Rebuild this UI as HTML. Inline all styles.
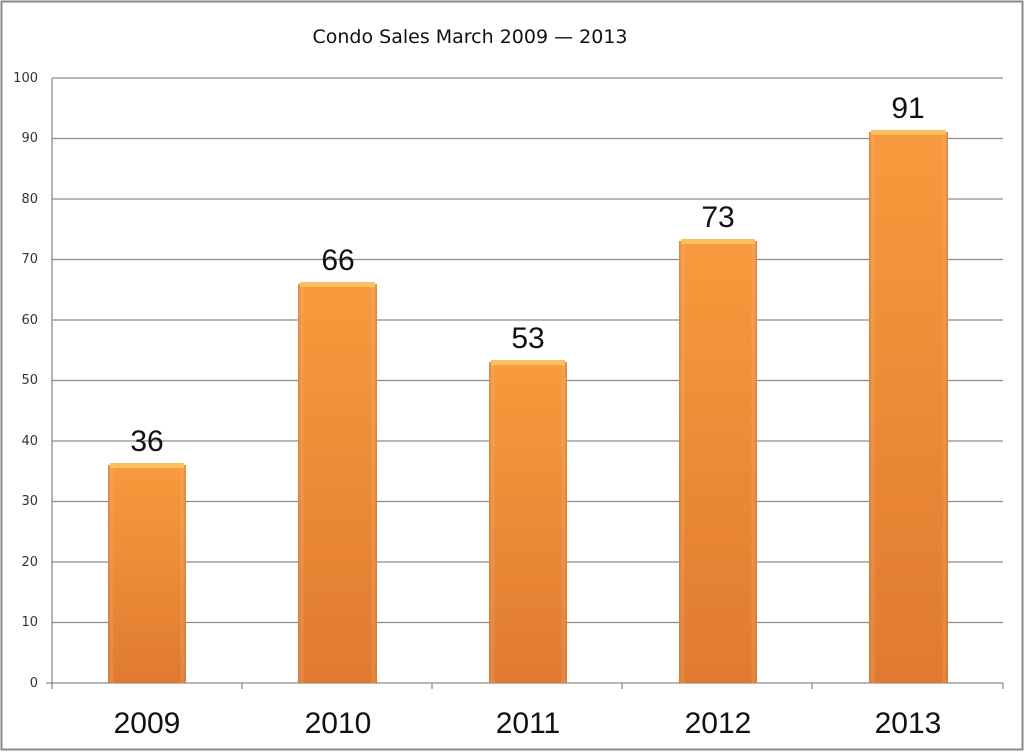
<!DOCTYPE html><html><head><style>body{margin:0;background:#fff}svg{display:block}</style></head><body>
<svg width="1024" height="752" xmlns="http://www.w3.org/2000/svg" font-family="Liberation Sans, sans-serif">
<defs>
<linearGradient id="g" x1="0" y1="0" x2="0" y2="1"><stop offset="0" stop-color="#f89a3c"/><stop offset="1" stop-color="#e07a30"/></linearGradient>
<linearGradient id="h" x1="0" y1="0" x2="1" y2="0"><stop offset="0" stop-color="#c96a20" stop-opacity="0.5"/><stop offset="0.08" stop-color="#fff" stop-opacity="0"/><stop offset="0.92" stop-color="#fff" stop-opacity="0"/><stop offset="1" stop-color="#c96a20" stop-opacity="0.5"/></linearGradient>
</defs>
<rect x="1.5" y="1.5" width="1021" height="748" fill="#fff" stroke="#8a8a8a" stroke-width="2"/>
<text x="470" y="43" font-family="DejaVu Sans, sans-serif" font-size="19" text-anchor="middle" fill="#111">Condo Sales March 2009 — 2013</text>
<g stroke="#8c8c8c" stroke-width="1.3">
<line x1="52" y1="78" x2="1003" y2="78"/><line x1="52" y1="138.5" x2="1003" y2="138.5"/><line x1="52" y1="199" x2="1003" y2="199"/><line x1="52" y1="259.5" x2="1003" y2="259.5"/><line x1="52" y1="320" x2="1003" y2="320"/><line x1="52" y1="380.5" x2="1003" y2="380.5"/><line x1="52" y1="441" x2="1003" y2="441"/><line x1="52" y1="501.5" x2="1003" y2="501.5"/><line x1="52" y1="562" x2="1003" y2="562"/><line x1="52" y1="622.5" x2="1003" y2="622.5"/>
<line x1="52" y1="78" x2="52" y2="689"/><line x1="46" y1="683" x2="1003" y2="683"/>
<line x1="242" y1="683" x2="242" y2="689"/><line x1="432" y1="683" x2="432" y2="689"/><line x1="622" y1="683" x2="622" y2="689"/><line x1="812" y1="683" x2="812" y2="689"/><line x1="1003" y1="683" x2="1003" y2="689"/>
</g>
<g font-family="DejaVu Sans, sans-serif" font-size="13" fill="#333" text-anchor="end">
<text x="38" y="82">100</text><text x="38" y="142">90</text><text x="38" y="203">80</text><text x="38" y="263">70</text><text x="38" y="324">60</text><text x="38" y="384">50</text><text x="38" y="445">40</text><text x="38" y="505">30</text><text x="38" y="566">20</text><text x="38" y="626">10</text><text x="38" y="687">0</text>
</g>
<g>
<rect x="108" y="465" width="78" height="218" fill="url(#g)"/><rect x="108" y="465" width="78" height="218" fill="url(#h)"/><rect x="110" y="463" width="74" height="5" fill="#fcc060"/>
<rect x="298" y="284" width="79" height="399" fill="url(#g)"/><rect x="298" y="284" width="79" height="399" fill="url(#h)"/><rect x="300" y="282" width="75" height="5" fill="#fcc060"/>
<rect x="489" y="362" width="78" height="321" fill="url(#g)"/><rect x="489" y="362" width="78" height="321" fill="url(#h)"/><rect x="491" y="360" width="74" height="5" fill="#fcc060"/>
<rect x="679" y="241" width="78" height="442" fill="url(#g)"/><rect x="679" y="241" width="78" height="442" fill="url(#h)"/><rect x="681" y="239" width="74" height="5" fill="#fcc060"/>
<rect x="869" y="132" width="79" height="551" fill="url(#g)"/><rect x="869" y="132" width="79" height="551" fill="url(#h)"/><rect x="871" y="130" width="75" height="5" fill="#fcc060"/>
</g>
<g font-size="30" text-anchor="middle" fill="#111">
<text x="147" y="451">36</text><text x="338" y="270">66</text><text x="528" y="348">53</text><text x="718" y="227">73</text><text x="908" y="118">91</text>
<text x="147" y="733">2009</text><text x="338" y="733">2010</text><text x="528" y="733">2011</text><text x="718" y="733">2012</text><text x="908" y="733">2013</text>
</g>
</svg>
</body></html>
